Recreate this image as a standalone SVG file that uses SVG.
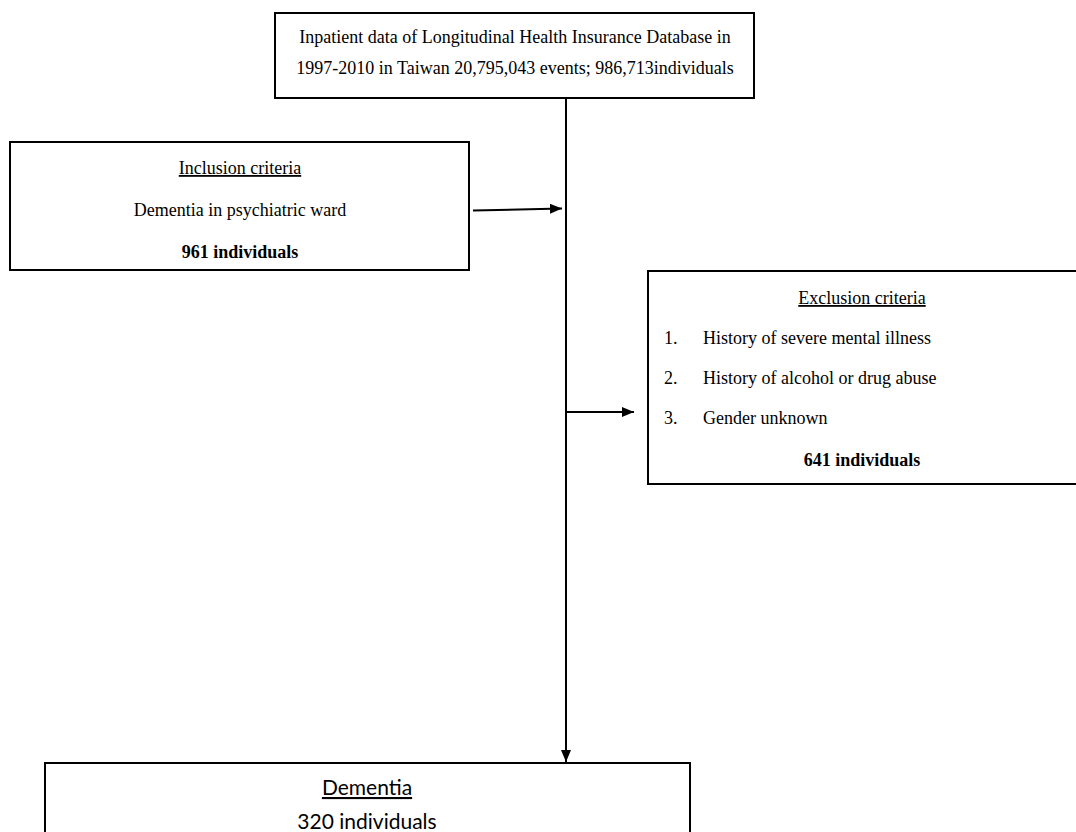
<svg xmlns="http://www.w3.org/2000/svg" width="1076" height="832" viewBox="0 0 1076 832">
<style>
.box{fill:#fff;stroke:#000;stroke-width:2}
.t{font-family:"Liberation Serif","Times New Roman",serif;font-size:18px;fill:#000}
.c{text-anchor:middle}
.b{font-weight:bold}
.u{text-decoration:underline}
.s{font-family:Lato,"Open Sans",sans-serif;font-size:21px;fill:#000;text-anchor:middle}
.ln{stroke:#000;stroke-width:2;fill:none}
</style>
<defs>
<marker id="ah" viewBox="0 0 12 10" refX="12" refY="5" markerWidth="6" markerHeight="5" markerUnits="strokeWidth" orient="auto">
<path d="M0,0 L12,5 L0,10 z" fill="#000"/>
</marker>
</defs>
<rect width="1076" height="832" fill="#fff"/>
<g id="connectors">
<line class="ln" x1="566" y1="98" x2="566" y2="762" marker-end="url(#ah)"/>
<line class="ln" x1="473" y1="210.5" x2="562" y2="208.5" marker-end="url(#ah)"/>
<line class="ln" x1="566" y1="412" x2="634" y2="412" marker-end="url(#ah)"/>
</g>
<g id="source">
<rect class="box" x="275" y="13" width="479" height="85"/>
<text class="t c" x="515" y="43">Inpatient data of Longitudinal Health Insurance Database in</text>
<text class="t c" x="515" y="74">1997-2010 in Taiwan 20,795,043 events; 986,713individuals</text>
</g>
<g id="inclusion">
<rect class="box" x="10" y="142" width="459" height="128"/>
<text class="t c u" x="240" y="174">Inclusion criteria</text>
<text class="t c" x="240" y="216">Dementia in psychiatric ward</text>
<text class="t c b" x="240" y="258">961 individuals</text>
</g>
<g id="exclusion">
<rect class="box" x="648" y="271" width="440" height="213"/>
<text class="t c u" x="862" y="304">Exclusion criteria</text>
<text class="t" x="664" y="344">1.</text>
<text class="t" x="703" y="344">History of severe mental illness</text>
<text class="t" x="664" y="384">2.</text>
<text class="t" x="703" y="384">History of alcohol or drug abuse</text>
<text class="t" x="664" y="424">3.</text>
<text class="t" x="703" y="424">Gender unknown</text>
<text class="t c b" x="862" y="466">641 individuals</text>
</g>
<g id="dementia">
<rect class="box" x="45" y="763" width="645" height="90"/>
<text class="s u" x="367" y="795">Dementia</text>
<text class="s" x="367" y="829">320 individuals</text>
</g>
</svg>
